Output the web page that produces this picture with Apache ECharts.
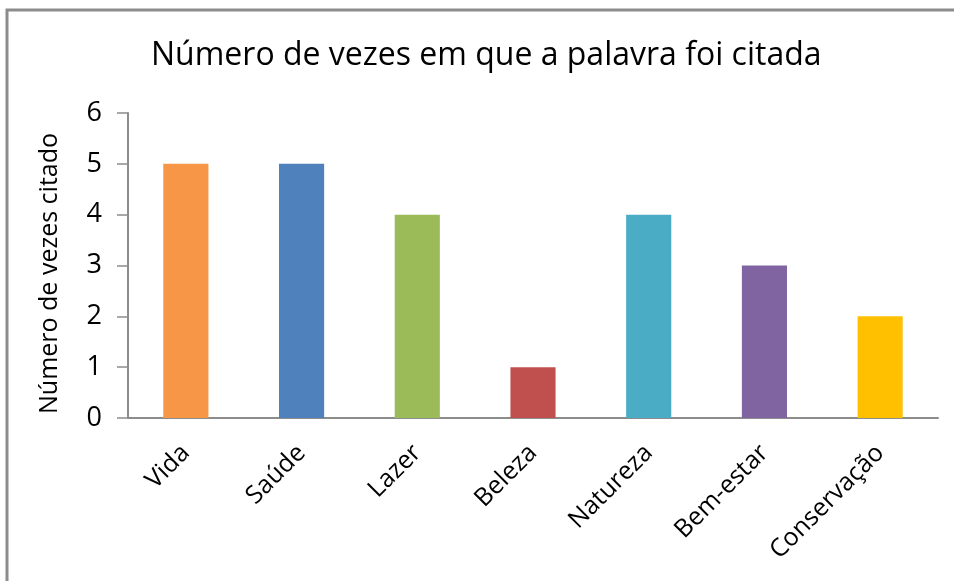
<!DOCTYPE html>
<html>
<head>
<meta charset="utf-8">
<script src="https://cdn.jsdelivr.net/npm/echarts@6/dist/echarts.min.js"></script>
<style>
  html, body { margin: 0; padding: 0; background: #fff; }
  #chart { width: 954px; height: 581px; }
</style>
</head>
<body>
<div id="chart"></div>
<script>
const categories = ['Vida', 'Saúde', 'Lazer', 'Beleza', 'Natureza', 'Bem-estar', 'Conservação']
const counts = [5, 5, 4, 1, 4, 3, 2]
const barColors = ['#F79646', '#4F81BD', '#9BBB59', '#C0504D', '#4BACC6', '#8064A2', '#FFC000']

const font = '"Open Sans", Lato, sans-serif'
const chart = echarts.init(document.getElementById('chart'))

chart.setOption({
  animation: false,
  graphic: [
    {
      type: 'rect',
      shape: { x: 7, y: 10, width: 980, height: 600 },
      style: { fill: 'none', stroke: '#8c8c8c', lineWidth: 3 }
    }
  ],
  title: {
    text: 'Número de vezes em que a palavra foi citada',
    left: 146,
    top: 35,
    textStyle: { fontFamily: font, fontSize: 32, fontWeight: 'normal', color: '#000' }
  },
  grid: { left: 128, right: 16, top: 113, bottom: 163 },
  xAxis: {
    type: 'category',
    data: categories,
    axisLine: { lineStyle: { color: '#8c8c8c', width: 2 } },
    axisTick: { length: 9, lineStyle: { color: '#8c8c8c', width: 1.5 } },
    axisLabel: {
      rotate: 45,
      margin: 31,
      fontFamily: font,
      fontSize: 25,
      color: '#000'
    }
  },
  yAxis: {
    type: 'value',
    min: 0,
    max: 6,
    interval: 1,
    name: 'Número de vezes citado',
    nameLocation: 'middle',
    nameGap: 66,
    nameTextStyle: { fontFamily: font, fontSize: 25, color: '#000', padding: [0, 0, 0, -16] },
    axisLine: { show: true, lineStyle: { color: '#8c8c8c', width: 2 } },
    axisTick: { show: true, length: 11, lineStyle: { color: '#8c8c8c', width: 1.5 } },
    axisLabel: { margin: 26, fontFamily: font, fontSize: 27, color: '#000', padding: [6, 0, 0, 0] },
    splitLine: { show: false }
  },
  series: [
    {
      type: 'bar',
      data: counts.map((v, i) => ({ value: v, itemStyle: { color: barColors[i] } })),
      barWidth: '39%'
    }
  ]
})
</script>
</body>
</html>
